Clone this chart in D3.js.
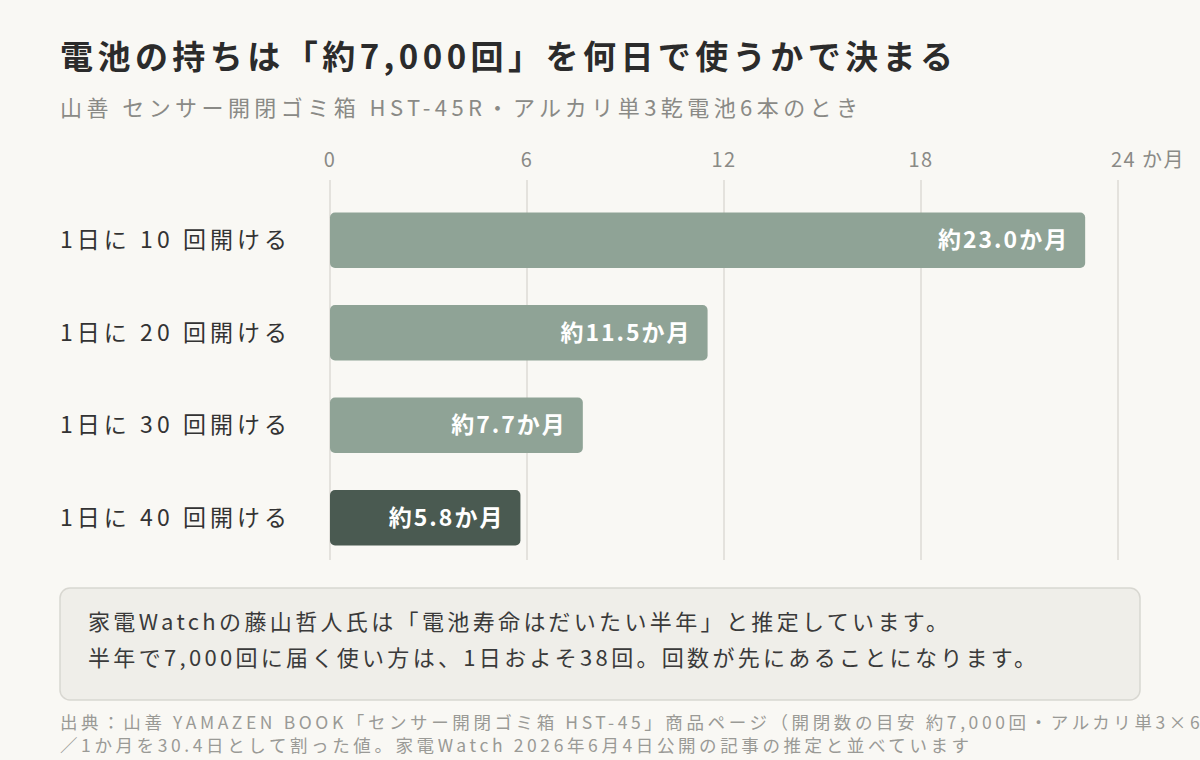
<!DOCTYPE html>
<html>
<head>
<meta charset="utf-8">
<script src="https://d3js.org/d3.v7.min.js"></script>
<style>
  body { margin: 0; background: #f9f8f4; overflow: hidden; }
  svg { display: block; font-family: "Noto Sans CJK JP", "Noto Sans", sans-serif; }
</style>
</head>
<body>
<script>
// data
var categories = ["1日に 10 回開ける", "1日に 20 回開ける", "1日に 30 回開ける", "1日に 40 回開ける"];
var months = [23.0, 11.5, 7.7, 5.8];
var valueLabels = ["約23.0か月", "約11.5か月", "約7.7か月", "約5.8か月"];
var tickValues = [0, 6, 12, 18, 24];
var noteLines = ["家電Watchの藤山哲人氏は「電池寿命はだいたい半年」と推定しています。",
                 "半年で7,000回に届く使い方は、1日およそ38回。回数が先にあることになります。"];
var sourceLines = ["出典：山善 YAMAZEN BOOK「センサー開閉ゴミ箱 HST-45」商品ページ（開閉数の目安 約7,000回・アルカリ単3×6本）",
                   "／1か月を30.4日として割った値。家電Watch 2026年6月4日公開の記事の推定と並べています"];

var W = 1200, H = 760;
var svg = d3.select("body").append("svg").attr("width", W).attr("height", H);

svg.append("text").attr("x", 60).attr("y", 69)
  .attr("font-size", 33).attr("font-weight", 700).attr("fill", "#2b2b2b")
  .attr("textLength", 893).attr("lengthAdjust", "spacing")
  .text("電池の持ちは「約7,000回」を何日で使うかで決まる");
svg.append("text").attr("x", 60).attr("y", 116)
  .attr("font-size", 22).attr("fill", "#8a8a86")
  .attr("textLength", 798).attr("lengthAdjust", "spacing")
  .text("山善 センサー開閉ゴミ箱 HST-45R・アルカリ単3乾電池6本のとき");

var x = d3.scaleLinear().domain([0, 24]).range([330, 1118]);
var y = d3.scaleBand().domain(categories).range([194, 564]).paddingInner(0.4).paddingOuter(0.2);

// grid + ticks
svg.selectAll(".grid").data(tickValues).enter().append("line")
  .attr("x1", d => x(d)).attr("x2", d => x(d))
  .attr("y1", 180).attr("y2", 560)
  .attr("stroke", "#dcdbd6").attr("stroke-width", 1.5);
svg.selectAll(".tick").data(tickValues).enter().append("text")
  .attr("x", d => x(d)).attr("y", 167)
  .attr("text-anchor", "middle").attr("font-size", 20).attr("fill", "#8a8a86")
  .style("letter-spacing", "1.5px")
  .text(d => d === 24 ? "24 か月" : d)
  .attr("dx", d => d === 24 ? 30 : 0);

var data = categories.map((c, i) => ({ c: c, v: months[i], l: valueLabels[i], i: i }));

svg.selectAll(".bar").data(data).enter().append("rect")
  .attr("x", x(0)).attr("y", d => y(d.c))
  .attr("width", d => x(d.v) - x(0)).attr("height", y.bandwidth())
  .attr("rx", 5)
  .attr("fill", d => d.i === 3 ? "#4a5a51" : "#8fa396");

svg.selectAll(".cat").data(data).enter().append("text")
  .attr("x", 60).attr("y", d => y(d.c) + y.bandwidth() / 2 + 8)
  .attr("font-size", 23).attr("fill", "#333")
  .attr("textLength", 227).attr("lengthAdjust", "spacing")
  .text(d => d.c);

svg.selectAll(".val").data(data).enter().append("text")
  .attr("x", d => x(d.v) - 16).attr("y", d => y(d.c) + y.bandwidth() / 2 + 8)
  .attr("text-anchor", "end").attr("font-size", 23).attr("font-weight", 700).attr("fill", "#fff")
  .style("letter-spacing", "2px")
  .text(d => d.l);

// note box
svg.append("rect").attr("x", 60).attr("y", 588).attr("width", 1080).attr("height", 112)
  .attr("rx", 10).attr("fill", "#efeee9").attr("stroke", "#d8d7d1").attr("stroke-width", 1.5);
svg.selectAll(".note").data(noteLines).enter().append("text")
  .attr("x", 88).attr("y", (d, i) => 630 + i * 36)
  .attr("font-size", 22).attr("fill", "#3a3a3a")
  .attr("textLength", (d, i) => i === 0 ? 860 : 948).attr("lengthAdjust", "spacing")
  .text(d => d);

svg.selectAll(".src").data(sourceLines).enter().append("text")
  .attr("x", 60).attr("y", (d, i) => 729 + i * 23)
  .attr("font-size", 17.5).attr("fill", "#9a9a96")
  .style("letter-spacing", "3.6px")
  .text(d => d);
</script>
</body>
</html>
